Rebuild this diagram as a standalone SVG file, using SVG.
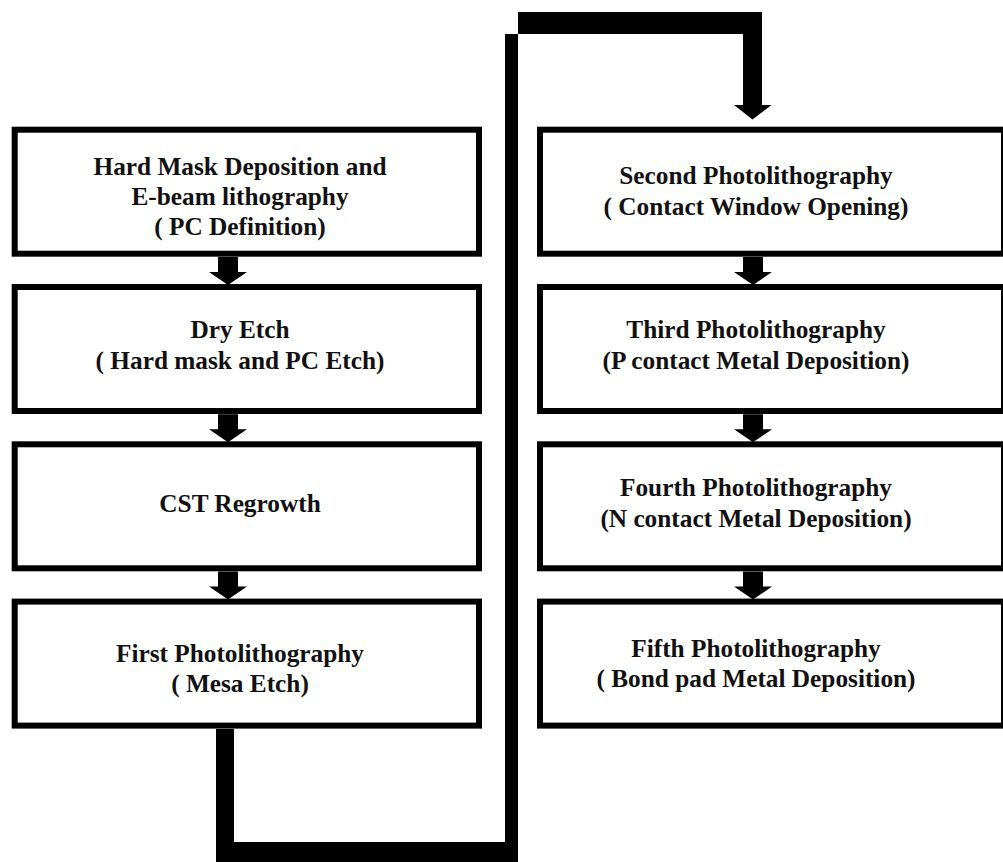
<svg xmlns="http://www.w3.org/2000/svg" width="1003" height="862" viewBox="0 0 1003 862">
<style>
.box{fill:#fff;stroke:#000;stroke-width:6}
.t{font-family:"Liberation Serif","Times New Roman",serif;font-weight:bold;font-size:25.3px;fill:#111;text-anchor:middle}
.conn{fill:#000;stroke:none}
</style>
<defs>
<polygon id="arr" points="-10,0 10,0 10,15 19,15 0,28 -19,15 -10,15"/>
</defs>
<rect width="1003" height="862" fill="#fff"/>
<g id="connectors">
<use href="#arr" class="conn" x="228" y="257"/>
<use href="#arr" class="conn" x="228" y="414.3"/>
<use href="#arr" class="conn" x="228" y="571.6"/>
<use href="#arr" class="conn" x="753" y="257"/>
<use href="#arr" class="conn" x="753" y="414.3"/>
<use href="#arr" class="conn" x="753" y="571.6"/>
<polygon class="conn" points="216,729 216,866 518,866 518,12 762,12 762,105 771.5,105 752.5,119.5 734,105 743,105 743,34 505,34 505,842 234,842 234,729"/>
</g>
<g id="n1">
<rect class="box" x="14.7" y="129.7" width="464.3" height="124"/>
<text class="t" x="240" y="175">Hard Mask Deposition and</text>
<text class="t" x="240" y="205">E-beam lithography</text>
<text class="t" x="240" y="235">( PC Definition)</text>
</g>
<g id="n2">
<rect class="box" x="14.7" y="287" width="464.3" height="124"/>
<text class="t" x="240" y="338">Dry Etch</text>
<text class="t" x="240" y="369">( Hard mask and PC Etch)</text>
</g>
<g id="n3">
<rect class="box" x="14.7" y="444.3" width="464.3" height="124"/>
<text class="t" x="240" y="512">CST Regrowth</text>
</g>
<g id="n4">
<rect class="box" x="14.7" y="601.6" width="464.3" height="124"/>
<text class="t" x="240" y="662">First Photolithography</text>
<text class="t" x="240" y="692">( Mesa Etch)</text>
</g>
<g id="n5">
<rect class="box" x="540" y="129.7" width="464" height="124"/>
<text class="t" x="756" y="184">Second Photolithography</text>
<text class="t" x="756" y="215">( Contact Window Opening)</text>
</g>
<g id="n6">
<rect class="box" x="540" y="287" width="464" height="124"/>
<text class="t" x="756" y="338">Third Photolithography</text>
<text class="t" x="756" y="369">(P contact Metal Deposition)</text>
</g>
<g id="n7">
<rect class="box" x="540" y="444.3" width="464" height="124"/>
<text class="t" x="756" y="496">Fourth Photolithography</text>
<text class="t" x="756" y="527">(N contact Metal Deposition)</text>
</g>
<g id="n8">
<rect class="box" x="540" y="601.6" width="464" height="124"/>
<text class="t" x="756" y="657">Fifth Photolithography</text>
<text class="t" x="756" y="687">( Bond pad Metal Deposition)</text>
</g>
</svg>
